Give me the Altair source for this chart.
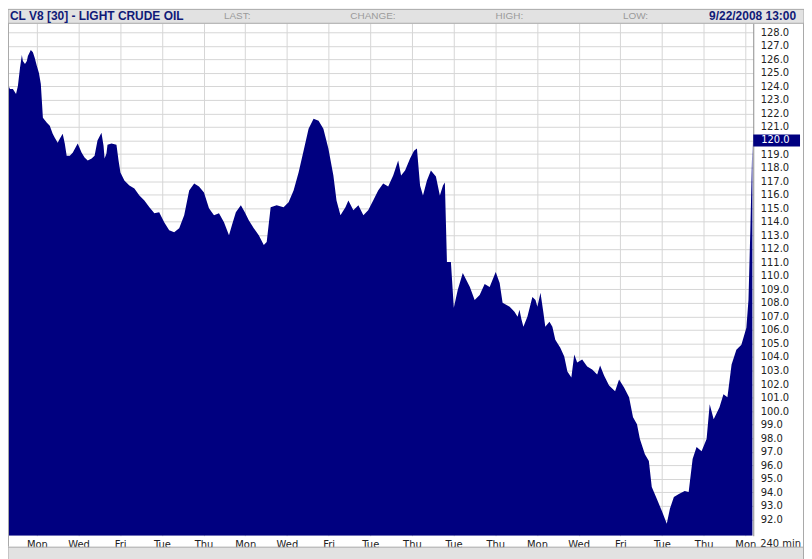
import altair as alt
import pandas as pd

# trading-day index (0 = Mon 8/4/2008, 34 = Mon 9/22/2008) and price
day_idx = [-1.48, -1.29, -1.15, -1.00, -0.91, -0.81, -0.72, -0.67, -0.57, -0.48, -0.43, -0.29, -0.19, -0.10,
           0.00, 0.10, 0.19, 0.24, 0.29, 0.48, 0.62, 0.76, 0.86, 1.00, 1.10, 1.24, 1.34, 1.43, 1.58, 1.72,
           1.96, 2.15, 2.29, 2.44, 2.63, 2.77, 2.91, 3.10, 3.20, 3.25, 3.34, 3.39, 3.58, 3.82, 3.92, 4.01,
           4.20, 4.44, 4.68, 4.92, 5.16, 5.40, 5.64, 5.87, 6.11, 6.35, 6.59, 6.83, 7.07, 7.31, 7.55, 7.78,
           8.02, 8.26, 8.50, 8.74, 8.98, 9.22, 9.36, 9.55, 9.79, 9.98, 10.17, 10.41, 10.65, 10.89, 11.03,
           11.22, 11.51, 11.84, 12.08, 12.32, 12.56, 12.80, 13.04, 13.28, 13.52, 13.75, 13.99, 14.23, 14.38,
           14.57, 14.81, 14.95, 15.19, 15.43, 15.67, 15.90, 16.14, 16.38, 16.62, 16.86, 17.10, 17.34, 17.48,
           17.67, 17.91, 18.10, 18.24, 18.39, 18.53, 18.72, 18.91, 19.15, 19.34, 19.49, 19.58, 19.68, 19.87,
           20.01, 20.20, 20.44, 20.78, 21.01, 21.25, 21.49, 21.73, 22.02, 22.21, 22.35, 22.69, 22.92, 23.07,
           23.16, 23.26, 23.35, 23.54, 23.78, 23.93, 24.02, 24.17, 24.31, 24.40, 24.60, 24.74, 24.88, 25.12,
           25.31, 25.46, 25.65, 25.79, 25.93, 26.17, 26.41, 26.65, 26.89, 27.03, 27.22, 27.46, 27.75, 27.94,
           28.18, 28.42, 28.61, 28.80, 28.94, 29.18, 29.37, 29.51, 29.75, 29.99, 30.23, 30.38, 30.57, 30.81,
           31.09, 31.28, 31.47, 31.66, 31.90, 32.14, 32.29, 32.48, 32.76, 32.95, 33.14, 33.34, 33.57, 33.81,
           34.05, 34.15, 34.24, 34.34]
price = [124.47, 123.81, 123.81, 123.44, 124.03, 125.35, 126.31, 125.87, 125.65, 125.87, 126.24, 126.68, 126.53, 126.09,
         125.50, 124.99, 124.18, 122.93, 121.68, 121.31, 121.09, 120.50, 120.21, 119.84, 120.13, 120.50, 119.77, 118.88, 118.88, 119.10,
         119.77, 119.10, 118.74, 118.52, 118.66, 118.88, 119.99, 120.57, 119.62, 118.66, 119.03, 119.69, 119.77, 119.69, 118.52, 117.63,
         117.04, 116.68, 116.46, 115.94, 115.57, 115.06, 114.62, 114.69, 113.96, 113.37, 113.22, 113.51, 114.47, 116.31, 116.82, 116.60,
         116.16, 114.99, 114.47, 114.62, 113.96, 113.00, 113.74, 114.69, 115.21, 114.69, 114.10, 113.51, 113.00, 112.27, 112.49,
         115.06, 115.21, 115.06, 115.43, 116.31, 117.63, 119.25, 120.87, 121.60, 121.46, 120.87, 119.40, 117.41, 115.57,
         114.47, 115.06, 115.57, 114.84, 115.21, 114.47, 114.84, 115.57, 116.31, 116.82, 116.60, 117.41, 118.52, 117.41,
         117.78, 118.66, 119.25, 119.40, 116.68, 115.94, 117.04, 117.78, 117.34, 115.94, 116.68, 116.90, 111.02, 111.02,
         107.63, 108.96, 110.21, 109.18, 108.22, 108.59, 109.40, 109.18, 110.28, 109.47, 108.00, 107.71, 107.34, 106.97,
         107.49, 106.75, 106.24, 106.97, 108.44, 108.22, 107.71, 108.74, 107.27, 106.24, 106.61, 106.24, 105.28, 104.69,
         104.03, 102.93, 102.49, 104.18, 103.59, 103.81, 103.30, 103.07, 102.71, 103.37, 102.63, 101.90, 101.46, 102.34,
         101.75, 101.02, 99.54, 99.03, 97.93, 96.82, 96.31, 94.40, 93.52, 92.63, 91.68, 92.78, 93.66, 93.88,
         94.10, 94.03, 96.46, 97.34, 97.04, 97.93, 100.51, 99.40, 100.28, 101.24, 101.02, 103.44, 104.54, 104.91,
         106.16, 108.22, 113.37, 119.99]

tick_days = list(range(0, 35, 2))
tick_labels = ["Mon", "Wed", "Fri", "Tue", "Thu", "Mon", "Wed", "Fri", "Tue",
               "Thu", "Tue", "Thu", "Mon", "Wed", "Fri", "Tue", "Thu", "Mon"]
price_ticks = list(range(92, 129))
last_label = 120.0

title_text = "CL V8 [30] - LIGHT CRUDE OIL"
header_words = ["LAST:", "CHANGE:", "HIGH:", "LOW:"]
date_text = "9/22/2008 13:00"
interval_text = "240 min"

X_DOM = [-1.385, 34.38]
Y_DOM = [90.79, 128.66]
NAVY = "#000080"
FONT = "DejaVu Sans"

df = pd.DataFrame({"day": day_idx, "price": price})
one = pd.DataFrame({"k": [0]})
last_df = pd.DataFrame({"price": [last_label], "hi": [last_label + 0.45], "lo": [last_label - 0.45]})

label_arr = "[" + ",".join("'%s'" % s for s in tick_labels) + "]"

x_scale = alt.Scale(domain=X_DOM, nice=False, zero=False)
y_scale = alt.Scale(domain=Y_DOM, nice=False, zero=False)
x_axis = alt.Axis(values=tick_days, labelExpr=label_arr + "[datum.value/2]",
                  title=None, grid=True, gridColor="#d6d6d6", ticks=False, domain=False,
                  labelPadding=4, labelFont=FONT, labelFontSize=10, labelColor="#222222",
                  labelFlush=False, labelOverlap=False)
y_axis = alt.Axis(orient="right", values=price_ticks,
                  labelExpr="datum.value == 120 ? '' : format(datum.value, '.1f')",
                  title=None, grid=True, gridColor="#d6d6d6", ticks=False,
                  domain=True, domainColor="#8c8c8c", labelPadding=7,
                  labelFont=FONT, labelFontSize=10, labelColor="#222222",
                  labelOverlap=False, labelFlush=False)

area = alt.Chart(df).mark_area(color=NAVY, interpolate="linear", clip=True, opacity=1).encode(
    x=alt.X("day:Q", scale=x_scale, axis=x_axis),
    y=alt.Y("price:Q", scale=y_scale, axis=y_axis),
    y2=alt.datum(Y_DOM[0]))

# header band
header_bg = alt.Chart(one).mark_rect(fill="#e2e2e2", stroke="#a8a8a8", strokeWidth=1).encode(
    x=alt.value(0), x2=alt.value(800), y=alt.value(-14), y2=alt.value(0))
title = alt.Chart(one).mark_text(align="left", baseline="middle", font="Liberation Sans",
                                 fontSize=12, fontWeight="bold", color="#101a78").encode(
    x=alt.value(2), y=alt.value(-7.5), text=alt.value(title_text))
words = []
for w, xp in zip(header_words, [217, 344, 490, 618]):
    words.append(alt.Chart(one).mark_text(align="left", baseline="middle", font="Liberation Sans",
                                          fontSize=10, color="#9a9a9a").encode(
        x=alt.value(xp), y=alt.value(-7.5), text=alt.value(w)))
date = alt.Chart(one).mark_text(align="right", baseline="middle", font="Liberation Sans",
                                fontSize=12, fontWeight="bold", color="#101a78").encode(
    x=alt.value(792), y=alt.value(-7.5), text=alt.value(date_text))

# last value marker on the price axis
last_box = alt.Chart(last_df).mark_rect(fill=NAVY).encode(
    x=alt.value(749), x2=alt.value(796),
    y=alt.Y("hi:Q", scale=y_scale, axis=y_axis), y2="lo:Q")
last_txt = alt.Chart(last_df).mark_text(align="left", baseline="middle", font=FONT,
                                        fontSize=10, color="white").encode(
    x=alt.value(757), y=alt.Y("price:Q", scale=y_scale, axis=y_axis),
    text=alt.Text("price:Q", format=".1f"))

# bottom decorations
interval = alt.Chart(one).mark_text(align="left", baseline="middle", font=FONT,
                                    fontSize=10, color="#222222").encode(
    x=alt.value(756), y=alt.value(523.5), text=alt.value(interval_text))
bottom_strip = alt.Chart(one).mark_rect(fill="#e2e2e2", stroke="#a8a8a8", strokeWidth=1).encode(
    x=alt.value(0), x2=alt.value(800), y=alt.value(526.5), y2=alt.value(545))
left_rule = alt.Chart(one).mark_rule(color="#a8a8a8").encode(
    x=alt.value(0.5), y=alt.value(0), y2=alt.value(526))
right_rule = alt.Chart(one).mark_rule(color="#a8a8a8").encode(
    x=alt.value(799.5), y=alt.value(0), y2=alt.value(545))

chart = alt.layer(area, header_bg, title, *words, date, last_box, last_txt,
                  interval, bottom_strip, left_rule, right_rule).properties(
    width=749, height=515,
    padding={"left": 0, "top": 14, "right": 51, "bottom": 22},
    autosize=alt.AutoSizeParams(type="none"),
    background="white",
).configure_view(stroke=None)

chart.save("out.html", embed_options={"renderer": "svg", "actions": False})
